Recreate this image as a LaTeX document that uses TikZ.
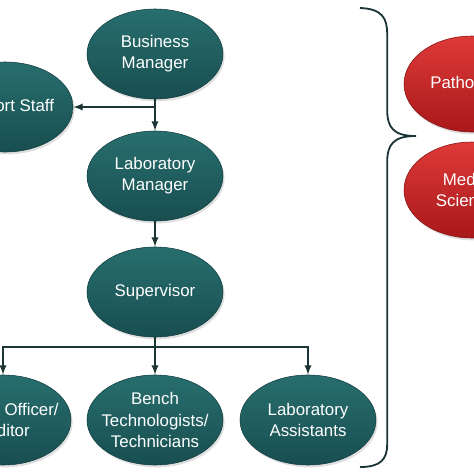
\documentclass[tikz,border=0pt]{standalone}
\usepackage{fontspec}
\setmainfont{Liberation Sans}
\usepackage{tikz}
\usetikzlibrary{shapes.geometric}
\usetikzlibrary{shadows}
\definecolor{sarcelle}{RGB}{40,110,110}
\definecolor{sarcellef}{RGB}{24,78,80}
\definecolor{rougec}{RGB}{222,58,56}
\definecolor{rougef}{RGB}{168,24,26}
\definecolor{trait}{RGB}{28,52,54}

\begin{document}
\begin{tikzpicture}[
  bulle/.style={ellipse,minimum width=3.4cm,minimum height=2.25cm,inner xsep=-0.6cm,inner ysep=0pt,
    top color=sarcelle,bottom color=sarcellef,draw=sarcellef!80!black,thin,text=white,align=center,
    font=\fontsize{12}{15}\selectfont,drop shadow={opacity=0.25,shadow xshift=0.04cm,shadow yshift=-0.06cm}},
  bullerouge/.style={bulle,top color=rougec,bottom color=rougef,draw=rougef!80!black,minimum height=2.4cm},
  lien/.style={draw=trait,line width=1.3pt,-latex}]
\useasboundingbox (0,0) rectangle (11.85,-11.85);
\clip (0,0) rectangle (11.85,-11.85);

\node[bulle] (bm) at (3.875,-1.35) {Business\\Manager};
\node[bulle] (ss) at (0.125,-2.675) {Support Staff};
\node[bulle] (lm) at (3.875,-4.4) {Laboratory\\Manager};
\node[bulle] (sup) at (3.875,-7.3) {Supervisor};
\node[bulle] (qo) at (0.075,-10.5) {Quality Officer/\\Auditor};
\node[bulle] (bt) at (3.875,-10.5) {Bench\\Technologists/\\Technicians};
\node[bulle] (la) at (7.7,-10.5) {Laboratory\\Assistants};

\node[bullerouge] (pa) at (11.8,-2.1) {Pathologist};
\node[bullerouge] (ms) at (11.8,-4.75) {Medical\\Scientists};

\draw[lien] (bm.south) -- (lm.north);
\draw[lien] (bm.south |- ss.east) -- (ss.east);

\draw[lien] (lm.south) -- (sup.north);

\coordinate (b2) at (3.875,-8.675);
\draw[draw=trait,line width=1.3pt] (sup.south) -- (b2);
\draw[lien] (b2) -| (qo.north);
\draw[lien] (b2) -- (bt.north);
\draw[lien] (b2) -| (la.north);

% accolade
\draw[draw=trait,line width=1.3pt] (9.0,-0.2) .. controls (9.55,-0.22) and (9.68,-0.45) .. (9.68,-0.85)
  -- (9.68,-2.75) .. controls (9.68,-3.2) and (9.85,-3.4) .. (10.4,-3.4)
  .. controls (9.85,-3.4) and (9.68,-3.6) .. (9.68,-4.05)
  -- (9.68,-11.1) .. controls (9.68,-11.5) and (9.5,-11.675) .. (9.0,-11.675);

\end{tikzpicture}
\end{document}
